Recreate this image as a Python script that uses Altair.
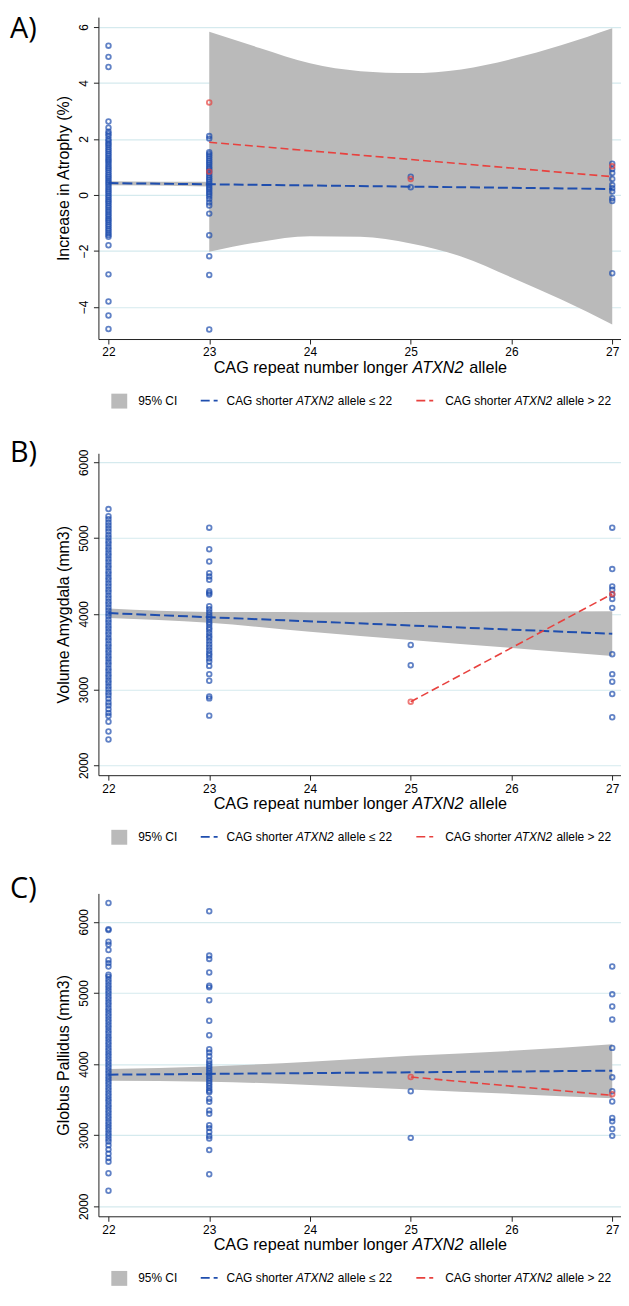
import altair as alt
import pandas as pd

BLUE = "#1f4eae"
RED = "#e8413e"
GREY = "#bababa"
GRID = "#d5eaee"
FONT = "Liberation Sans"

X_TICKS = [22, 23, 24, 25, 26, 27]
X_DOMAIN = [21.9, 27.087]
X_TITLE = ["CAG repeat number longer", "ATXN2", "allele"]
LEG_CI = "95% CI"
LEG_BLUE = ["CAG shorter", "ATXN2", "allele \u2264 22"]
LEG_RED = ["CAG shorter", "ATXN2", "allele > 22"]

# ---------------- Panel A: Increase in Atrophy (%) ----------------
A_label = "A)"
A_ytitle = "Increase in Atrophy (%)"
A_ydomain = [-5.15, 6.35]
A_yticks = [-4, -2, 0, 2, 4, 6]
A_b22 = [5.33, 4.93, 4.57, 2.62, 2.40, 2.26, 2.18, 2.10, 1.99, 1.92, 1.84, 1.78, 1.70, 1.62, 1.55,
         1.47, 1.40, 1.32, 1.25, 1.18, 1.10, 1.02, 0.95, 0.88, 0.80, 0.72, 0.65, 0.58, 0.50, 0.43,
         0.36, 0.28, 0.20, 0.13, 0.06, -0.02, -0.09, -0.17, -0.24, -0.31, -0.39, -0.46, -0.54,
         -0.61, -0.69, -0.76, -0.84, -0.91, -0.98, -1.06, -1.13, -1.21, -1.28, -1.36, -1.43,
         -1.50, -1.80, -2.84, -3.81, -4.31, -4.79]
A_b23 = [2.10, 2.01, 1.52, 1.45, 1.38, 1.30, 1.22, 1.15, 1.08, 1.00, 0.93, 0.86, 0.78, 0.70, 0.62,
         0.55, 0.48, 0.40, 0.33, 0.25, 0.18, 0.10, 0.03, -0.05, -0.15, -0.27, -0.38, -0.67, -1.44,
         -2.19, -2.86, -4.81]
A_b25 = [0.65, 0.27]
A_b27 = [1.11, 0.92, 0.78, 0.57, 0.35, 0.24, 0.12, -0.12, -0.22, -2.80]
A_rx = [23, 23, 25, 27]
A_ry = [3.30, 0.83, 0.57, 1.02]
A_blue_line_x = [22, 27]
A_blue_line_y = [0.42, 0.21]
A_red_line_x = [23, 27]
A_red_line_y = [1.88, 0.65]
A_bci_x = [22, 23, 25, 27]
A_bci_lo = [0.34, 0.30, 0.00, -0.30]
A_bci_hi = [0.49, 0.47, 0.55, 0.75]
A_rci_x = [23, 23.5, 24, 24.5, 25, 25.5, 26, 26.5, 27]
A_rci_lo = [-2.03, -1.68, -1.48, -1.50, -1.74, -2.20, -2.95, -3.75, -4.63]
A_rci_hi = [5.83, 5.25, 4.70, 4.42, 4.35, 4.48, 4.85, 5.35, 5.95]

# ---------------- Panel B: Volume Amygdala (mm3) ----------------
B_label = "B)"
B_ytitle = "Volume Amygdala (mm3)"
B_ydomain = [1870, 6120]
B_yticks = [2000, 3000, 4000, 5000, 6000]
B_b22 = [5383, 5288, 5250, 5207, 5168, 5126, 5088, 5043, 5006, 4962, 4927, 4884, 4846, 4803, 4768,
         4724, 4686, 4643, 4607, 4562, 4527, 4483, 4447, 4404, 4366, 4323, 4287, 4244, 4206, 4163,
         4127, 4083, 4046, 4004, 3967, 3923, 3887, 3844, 3806, 3763, 3727, 3683, 3647, 3603, 3566,
         3523, 3487, 3444, 3406, 3363, 3327, 3283, 3247, 3204, 3166, 3123, 3087, 3043, 3006, 2963,
         2926, 2880, 2830, 2790, 2740, 2690, 2650, 2575, 2447, 2341]
B_b23 = [5138, 4853, 4691, 4538, 4494, 4450, 4298, 4276, 4254, 4100, 4062, 4021, 3985, 3955, 3926,
         3890, 3860, 3820, 3790, 3750, 3710, 3680, 3640, 3600, 3560, 3520, 3480, 3450, 3410, 3370,
         3313, 3204, 3116, 2910, 2884, 2656]
B_b25 = [3589, 3322]
B_b27 = [5138, 4591, 4363, 4319, 4254, 4197, 4079, 3466, 3204, 3103, 2941, 2635]
B_rx = [25, 27]
B_ry = [2840, 4263]
B_blue_line_x = [22, 27]
B_blue_line_y = [4010, 3737]
B_red_line_x = [25, 27]
B_red_line_y = [2840, 4263]
B_bci_x = [22, 23, 24, 25, 26, 27]
B_bci_lo = [3945, 3882, 3764, 3655, 3550, 3444]
B_bci_hi = [4072, 4026, 4022, 4025, 4030, 4035]

# ---------------- Panel C: Globus Pallidus (mm3) ----------------
C_label = "C)"
C_ytitle = "Globus Pallidus (mm3)"
C_ydomain = [1860, 6400]
C_yticks = [2000, 3000, 4000, 5000, 6000]
C_b22 = [6265, 5898, 5884, 5721, 5680, 5605, 5465, 5420, 5372, 5256, 5230, 5190, 5152, 5110, 5072,
         5031, 4992, 4950, 4913, 4871, 4833, 4790, 4752, 4711, 4673, 4630, 4592, 4551, 4513, 4471,
         4433, 4390, 4352, 4311, 4273, 4230, 4192, 4151, 4113, 4071, 4033, 3990, 3952, 3911, 3873,
         3830, 3792, 3751, 3713, 3671, 3633, 3590, 3552, 3511, 3473, 3430, 3392, 3351, 3313, 3271,
         3233, 3190, 3152, 3111, 3073, 3030, 2992, 2951, 2912, 2860, 2800, 2740, 2680, 2628, 2465,
         2219]
C_b23 = [6149, 5526, 5479, 5288, 5102, 5079, 4898, 4609, 4405, 4209, 4163, 4110, 4047, 4010, 3975,
         3940, 3905, 3870, 3835, 3800, 3765, 3730, 3695, 3660, 3625, 3605, 3512, 3470, 3349, 3302,
         3140, 3100, 3047, 2990, 2953, 2791, 2451]
C_b25 = [3619, 2963]
C_b27 = [5372, 4981, 4809, 4628, 4228, 3814, 3619, 3474, 3242, 3195, 3088, 2991]
C_rx = [25, 27]
C_ry = [3819, 3577]
C_blue_line_x = [22, 27]
C_blue_line_y = [3851, 3907]
C_red_line_x = [25, 27]
C_red_line_y = [3819, 3560]
C_bci_x = [22, 23, 24, 25, 26, 27]
C_bci_lo = [3767, 3753, 3707, 3642, 3581, 3521]
C_bci_hi = [3930, 3967, 4033, 4116, 4186, 4279]

W = 526


def seg(text, x, y, size, italic=False, font=FONT, align="left"):
    return alt.Chart(pd.DataFrame({"t": [text]})).mark_text(
        align=align, baseline="middle", fontSize=size, font=font,
        fontStyle="italic" if italic else "normal", color="black"
    ).encode(x=alt.value(x), y=alt.value(y), text="t:N")


def panel(label, label_y, ytitle, ydomain, yticks, b22, b23, b25, b27, rx, ry,
          blx, bly, rlx, rly, cis, H):
    xs = alt.Scale(domain=X_DOMAIN, nice=False, zero=False)
    ys = alt.Scale(domain=ydomain, nice=False, zero=False)
    xaxis = alt.Axis(values=X_TICKS, title=None, grid=False, labelFontSize=12, labelFont=FONT,
                     tickSize=5, labelPadding=3, domainColor="#222", tickColor="#222",
                     labelColor="black", format="d")
    yaxis = alt.Axis(values=yticks, title=ytitle, grid=True, gridColor=GRID, gridWidth=1.2,
                     labelAngle=270, labelFontSize=12, labelFont=FONT, tickSize=5,
                     labelPadding=3, domainColor="#222", tickColor="#222", labelColor="black",
                     titleFontSize=16, titleFont=FONT, titleFontWeight="normal",
                     titleColor="black", titlePadding=6, format="d")

    rows = []
    for xv, vals in ((22, b22), (23, b23), (25, b25), (27, b27)):
        for v in vals:
            rows.append({"x": xv, "y": v, "g": "b"})
    for xv, v in zip(rx, ry):
        rows.append({"x": xv, "y": v, "g": "r"})
    pts = pd.DataFrame(rows)

    ci_rows = []
    for k, (cx, lo, hi) in enumerate(cis):
        for a, b, c in zip(cx, lo, hi):
            ci_rows.append({"x": a, "lo": b, "hi": c, "band": k})
    ci = pd.DataFrame(ci_rows)

    area = alt.Chart(ci).mark_area(color=GREY, opacity=1, interpolate="monotone").encode(
        x=alt.X("x:Q", scale=xs, axis=xaxis),
        y=alt.Y("lo:Q", scale=ys, axis=yaxis),
        y2="hi:Q",
        detail="band:N",
    )
    points = alt.Chart(pts).mark_point(shape="circle", filled=False, size=22, strokeWidth=1.8).encode(
        x=alt.X("x:Q", scale=xs, axis=xaxis),
        y=alt.Y("y:Q", scale=ys, axis=yaxis),
        color=alt.Color("g:N", scale=alt.Scale(domain=["b", "r"], range=[BLUE, RED]), legend=None),
    )
    bline = alt.Chart(pd.DataFrame({"x": blx, "y": bly})).mark_line(
        color=BLUE, strokeDash=[10, 4], strokeWidth=2).encode(
        x=alt.X("x:Q", scale=xs, axis=xaxis), y=alt.Y("y:Q", scale=ys, axis=yaxis))
    rline = alt.Chart(pd.DataFrame({"x": rlx, "y": rly})).mark_line(
        color=RED, strokeDash=[8, 4], strokeWidth=1.6).encode(
        x=alt.X("x:Q", scale=xs, axis=xaxis), y=alt.Y("y:Q", scale=ys, axis=yaxis))

    ty = H + 29
    ly = H + 62
    texts = [
        seg(X_TITLE[0], 116, ty, 16.3),
        seg(X_TITLE[1], 316.2, ty, 16.3, italic=True),
        seg(X_TITLE[2], 373.2, ty, 16.3),
        seg(label, -89, label_y, 29, font="Open Sans"),
        seg(LEG_CI, 40, ly, 12),
        seg(LEG_BLUE[0], 129, ly, 12),
        seg(LEG_BLUE[1], 199, ly, 12, italic=True),
        seg(LEG_BLUE[2], 241, ly, 12),
        seg(LEG_RED[0], 349, ly, 12),
        seg(LEG_RED[1], 419, ly, 12, italic=True),
        seg(LEG_RED[2], 461, ly, 12),
    ]
    dummy = pd.DataFrame({"k": [0]})
    swatch = alt.Chart(dummy).mark_rect(color=GREY).encode(
        x=alt.value(13), x2=alt.value(29), y=alt.value(ly - 7), y2=alt.value(ly + 8))
    lb = alt.Chart(dummy).mark_rule(color=BLUE, strokeDash=[9, 4], strokeWidth=1.8).encode(
        x=alt.value(103), x2=alt.value(120), y=alt.value(ly))
    lr = alt.Chart(dummy).mark_rule(color=RED, strokeDash=[9, 4], strokeWidth=1.6).encode(
        x=alt.value(320), x2=alt.value(337), y=alt.value(ly))

    return alt.layer(area, points, bline, rline, swatch, lb, lr, *texts).properties(
        width=W, height=H)


pA = panel(A_label, 12, A_ytitle, A_ydomain, A_yticks, A_b22, A_b23, A_b25, A_b27, A_rx, A_ry,
           A_blue_line_x, A_blue_line_y, A_red_line_x, A_red_line_y,
           [(A_bci_x, A_bci_lo, A_bci_hi), (A_rci_x, A_rci_lo, A_rci_hi)], 324)
pB = panel(B_label, 0, B_ytitle, B_ydomain, B_yticks, B_b22, B_b23, B_b25, B_b27, B_rx, B_ry,
           B_blue_line_x, B_blue_line_y, B_red_line_x, B_red_line_y,
           [(B_bci_x, B_bci_lo, B_bci_hi)], 324)
pC = panel(C_label, -4, C_ytitle, C_ydomain, C_yticks, C_b22, C_b23, C_b25, C_b27, C_rx, C_ry,
           C_blue_line_x, C_blue_line_y, C_red_line_x, C_red_line_y,
           [(C_bci_x, C_bci_lo, C_bci_hi)], 325)

chart = alt.vconcat(pA, pB, pC, spacing=31).properties(
    padding={"left": 2, "top": 3, "right": 0, "bottom": 0},
    background="white",
).configure_view(stroke=None)

chart.save("out.html", embed_options={"renderer": "svg", "actions": False})
